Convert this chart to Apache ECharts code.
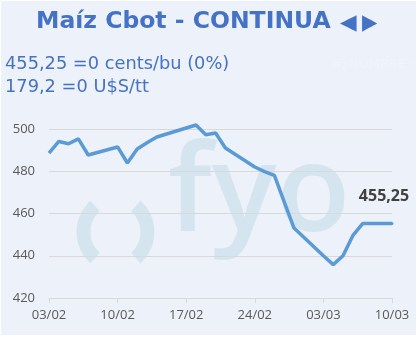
<!DOCTYPE html>
<html>
<head>
<meta charset="utf-8">
<script src="https://cdn.jsdelivr.net/npm/echarts@6/dist/echarts.min.js"></script>
<style>
html,body{margin:0;padding:0;background:#fff;}
#c{width:418px;height:337px;}
</style>
</head>
<body>
<div id="c"></div>
<script>
// All calendar days on the axis
var categories = ['03/02','04/02','05/02','06/02','07/02','08/02','09/02','10/02','11/02','12/02','13/02','14/02','15/02','16/02','17/02','18/02','19/02','20/02','21/02','22/02','23/02','24/02','25/02','26/02','27/02','28/02','01/03','02/03','03/03','04/03','05/03','06/03','07/03','08/03','09/03','10/03'];
// Trading days and closing prices (cents/bu)
var tradeDates = ['03/02','04/02','05/02','06/02','07/02','10/02','11/02','12/02','13/02','14/02','18/02','19/02','20/02','21/02','24/02','25/02','26/02','27/02','28/02','03/03','04/03','05/03','06/03','07/03','10/03'];
var prices = [488.6,494.1,493.0,495.3,487.7,491.5,483.9,490.5,493.5,496.2,501.9,497.3,498.1,491.0,482.0,479.8,478.0,465.5,453.1,440.0,435.8,440.0,449.5,455.25,455.25];
var yTicks = [420,440,460,480,500];
var xTickLabels = ['03/02','10/02','17/02','24/02','03/03','10/03'];
var titleText = 'Maíz Cbot - CONTINUA';
var arrowLeft = '◄';
var arrowRight = '►';
var line1 = '455,25 =0 cents/bu (0%)';
var line2 = '179,2 =0 U$S/tt';

var fmt = function(v){ return String(v).replace('.', ','); };

var seriesData = categories.map(function(d){
  var i = tradeDates.indexOf(d);
  return i < 0 ? null : prices[i];
});
var lastIdx = categories.indexOf(tradeDates[tradeDates.length-1]);
seriesData[lastIdx] = {
  value: prices[prices.length-1],
  symbol: 'circle', symbolSize: 3,
  label: {
    show: true, position: 'top', offset: [-8, -13],
    formatter: function(p){ return fmt(p.value); },
    fontFamily: '"Open Sans"', fontWeight: 'bold', fontSize: 16, color: '#404040'
  }
};

var deg = Math.PI / 180;
var wm = '#D5E5F0';
var chart = echarts.init(document.getElementById('c'), null, {renderer: 'canvas'});
chart.setOption({
  backgroundColor: '#ffffff',
  animation: false,
  graphic: [
    {type: 'rect', z: -100, shape: {x: 1, y: 1, width: 415, height: 334}, style: {fill: '#EDF1F9'}},
    {type: 'text', z: -50, x: 168, y: 197, style: {text: 'fyo', font: '600 121px "Open Sans"', fill: wm, verticalAlign: 'middle', align: 'left'}},
    {type: 'arc', z: -50, shape: {cx: 118.5, cy: 232, r: 35, startAngle: 132*deg, endAngle: 228*deg, clockwise: true}, style: {stroke: wm, lineWidth: 14, fill: null, lineCap: 'butt'}},
    {type: 'arc', z: -50, shape: {cx: 112.5, cy: 232, r: 35, startAngle: -48*deg, endAngle: 48*deg, clockwise: true}, style: {stroke: wm, lineWidth: 14, fill: null, lineCap: 'butt'}},
    {type: 'text', z: 10, x: 36, y: 22, style: {text: titleText, font: 'bold 23.5px "DejaVu Sans"', fill: '#4472C4', verticalAlign: 'middle', align: 'left'}},
    {type: 'text', z: 10, x: 340, y: 23, scaleX: 0.72, scaleY: 1.1, style: {text: arrowLeft, font: 'bold 30px "DejaVu Sans"', fill: '#4472C4', verticalAlign: 'middle', align: 'left'}},
    {type: 'text', z: 10, x: 362, y: 23, scaleX: 0.66, scaleY: 1.1, style: {text: arrowRight, font: 'bold 30px "DejaVu Sans"', fill: '#4472C4', verticalAlign: 'middle', align: 'left'}},
    {type: 'text', z: 10, x: 5, y: 64, style: {text: line1, font: '17.8px "DejaVu Sans"', fill: '#4472C4', verticalAlign: 'middle', align: 'left'}},
    {type: 'text', z: 10, x: 5, y: 87, style: {text: line2, font: '17.8px "DejaVu Sans"', fill: '#4472C4', verticalAlign: 'middle', align: 'left'}},
    {type: 'text', z: 10, x: 413, y: 65, style: {text: '#¿NOMBRE?', font: '13px "DejaVu Sans"', fill: '#F1F4FA', verticalAlign: 'middle', align: 'right'}}
  ],
  grid: {left: 49, right: 26, top: 129, bottom: 39, containLabel: false},
  xAxis: {
    type: 'category', data: categories, boundaryGap: false,
    axisLine: {show: true, lineStyle: {color: '#D9D9D9', width: 1}},
    axisTick: {show: true, interval: 6, length: 5, lineStyle: {color: '#D9D9D9'}},
    axisLabel: {
      interval: 6, margin: 11, color: '#595959', fontFamily: '"Open Sans"', fontSize: 13,
      formatter: function(v){ return xTickLabels.indexOf(v) >= 0 ? v : ''; }
    },
    splitLine: {show: false}
  },
  yAxis: {
    type: 'value', min: yTicks[0], max: yTicks[yTicks.length-1], interval: 20,
    axisLine: {show: false}, axisTick: {show: false},
    axisLabel: {margin: 14, color: '#595959', fontFamily: '"Open Sans"', fontSize: 13},
    splitLine: {show: true, lineStyle: {color: '#D9D9D9', width: 1}}
  },
  series: [{
    type: 'line', data: seriesData, connectNulls: true, clip: false,
    symbol: 'none', showSymbol: true,
    lineStyle: {color: '#5B9BD5', width: 3.5},
    itemStyle: {color: '#5B9BD5'},
    z: 5
  }]
});
</script>
</body>
</html>
